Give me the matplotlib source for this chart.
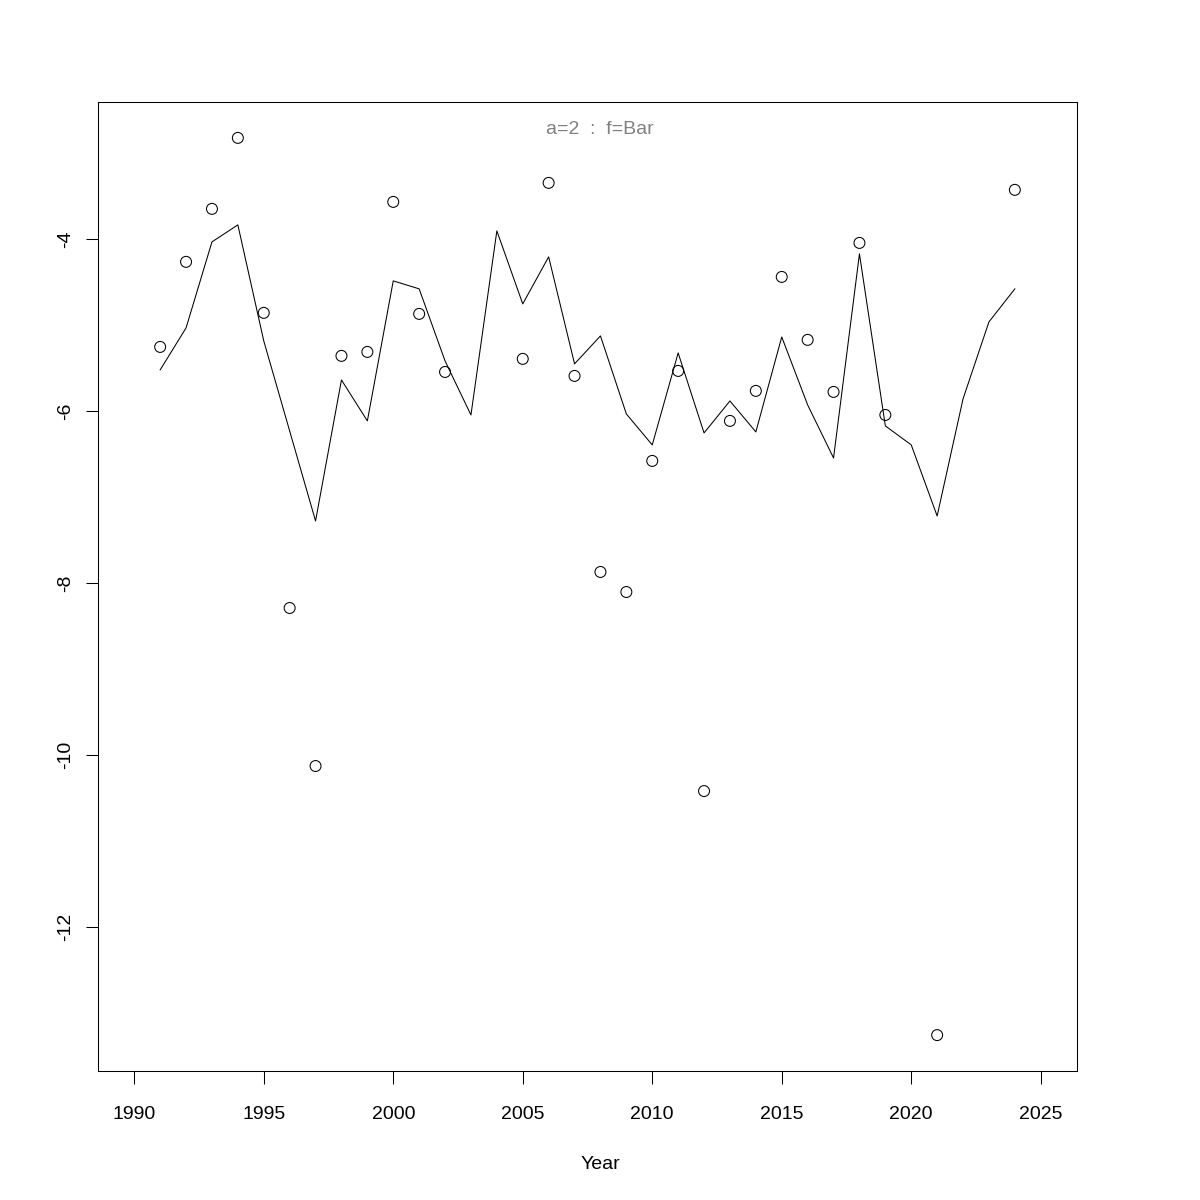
import numpy as np
import matplotlib
matplotlib.use("Agg")
import matplotlib.pyplot as plt

plt.rcParams['font.family'] = ['Liberation Sans', 'DejaVu Sans']

years = list(range(1991, 2025))
points = [-5.256, -4.267, -3.651, -2.826, -4.860, -8.291, -10.128, -5.360, -5.314, -3.570,
          -4.872, -5.547, np.nan, np.nan, -5.395, -3.349, -5.593, -7.872, -8.105, -6.581,
          -5.535, -10.419, -6.116, -5.767, -4.442, -5.174, -5.779, -4.047, -6.047, np.nan,
          -13.256, np.nan, np.nan, -3.430]
line = [-5.523, -5.035, -4.035, -3.837, -5.186, -6.233, -7.279, -5.640, -6.116, -4.488,
        -4.581, -5.419, -6.047, -3.907, -4.756, -4.209, -5.453, -5.128, -6.035, -6.395,
        -5.326, -6.256, -5.884, -6.244, -5.140, -5.930, -6.547, -4.174, -6.174, -6.395,
        -7.221, -5.860, -4.965, -4.581]
xticks = [1990, 1995, 2000, 2005, 2010, 2015, 2020, 2025]
yticks = [-12, -10, -8, -6, -4]
title = "a=2  :  f=Bar"

fig = plt.figure(figsize=(12, 12), dpi=100)
ax = fig.add_axes([98/1200, 1 - 1071/1200, (1077-98)/1200, (1071-102)/1200])

ax.plot(years, line, color='black', linewidth=0.75)
ax.scatter(years, points, s=62, facecolors='none', edgecolors='black', linewidths=0.75, zorder=3)

ax.set_xlim(1990 - 0.04*35, 2025 + 0.04*35)
ymin = np.nanmin(points); ymax = np.nanmax(points)
r = ymax - ymin
ax.set_ylim(ymin - 0.04*r, ymax + 0.04*r)

ax.set_xticks(xticks)
ax.set_xticklabels([str(t) for t in xticks])
ax.set_yticks(yticks)
ax.set_yticklabels([str(t) for t in yticks], rotation=90, va='center')
ax.tick_params(axis='both', length=9, width=0.75, labelsize=14)
ax.tick_params(axis='x', pad=16)
ax.tick_params(axis='y', pad=8)
for s in ax.spines.values():
    s.set_linewidth(0.75)

ax.set_xlabel("Year", fontsize=14)
ax.xaxis.set_label_coords(0.5128, -0.088)
ax.text(0.5128, 0.9715, title, transform=ax.transAxes, ha='center', va='center',
        fontsize=14, color='#808080')

fig.savefig("out.png", dpi=100)
